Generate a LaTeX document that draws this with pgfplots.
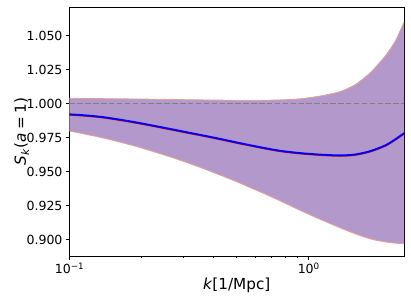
\documentclass[border=0pt]{standalone}
\usepackage{fontspec}
\setmainfont{DejaVu Sans}
\usepackage{pgfplots}
\usepackage{pgfplotstable}
\pgfplotsset{compat=1.18}
\definecolor{bandfill}{RGB}{179,152,204}
\definecolor{edgecol}{RGB}{232,160,150}
\definecolor{dashgray}{RGB}{128,128,128}
\newcommand{\tf}{\fontsize{12.6}{15}\selectfont}
\newcommand{\lf}{\fontsize{15.3}{18}\selectfont}
\pgfplotstableread{
k       upper    mean     lower    meanred
0.1000  1.00397  0.99221  0.97993  0.99181
0.1173  1.00385  0.99140  0.97745  0.99100
0.1372  1.00372  0.99022  0.97493  0.98982
0.1611  1.00360  0.98838  0.97190  0.98798
0.1892  1.00346  0.98632  0.96868  0.98592
0.2216  1.00330  0.98404  0.96505  0.98364
0.2606  1.00312  0.98162  0.96118  0.98122
0.3060  1.00295  0.97919  0.95700  0.97879
0.3601  1.00279  0.97676  0.95250  0.97636
0.4227  1.00264  0.97426  0.94775  0.97386
0.4967  1.00250  0.97162  0.94279  0.97122
0.6276  1.00250  0.96801  0.93507  0.96761
0.7612  1.00279  0.96537  0.92846  0.96497
0.9232  1.00360  0.96368  0.92147  0.96328
1.1196  1.00566  0.96257  0.91485  0.96217
1.3577  1.00897  0.96199  0.90860  0.96159
1.5688  1.01412  0.96272  0.90419  0.96232
1.8129  1.02294  0.96522  0.90051  0.96482
2.0950  1.03544  0.96949  0.89831  0.96909
2.3072  1.04647  0.97404  0.89743  0.97364
2.5000  1.06007  0.97831  0.89699  0.97791
}\datatable
\pgfplotstableread{
k       y
0.1000  1.00397
0.1173  1.00385
0.1372  1.00372
0.1611  1.00360
0.1892  1.00346
0.2216  1.00330
0.2606  1.00312
0.3060  1.00295
0.3601  1.00279
0.4227  1.00264
0.4967  1.00250
0.6276  1.00250
0.7612  1.00279
0.9232  1.00360
1.1196  1.00566
1.3577  1.00897
1.5688  1.01412
1.8129  1.02294
2.0950  1.03544
2.3072  1.04647
2.5000  1.06007
2.5000  0.89699
2.3072  0.89743
2.0950  0.89831
1.8129  0.90051
1.5688  0.90419
1.3577  0.90860
1.1196  0.91485
0.9232  0.92147
0.7612  0.92846
0.6276  0.93507
0.4967  0.94279
0.4227  0.94775
0.3601  0.95250
0.3060  0.95700
0.2606  0.96118
0.2216  0.96505
0.1892  0.96868
0.1611  0.97190
0.1372  0.97493
0.1173  0.97745
0.1000  0.97993
}\bandtable
\begin{document}
\begin{tikzpicture}
\useasboundingbox (-69.5bp,-46bp) rectangle (341.5bp,256bp);
\begin{axis}[
  at={(0,0)}, anchor=south west,
  width=334.5bp, height=249bp, scale only axis,
  xmode=log, xmin=0.1, xmax=2.5, ymin=0.888, ymax=1.0711,
  xtick={0.1,1}, xticklabels={{\tf 10\textsuperscript{−1}},{\tf 10\textsuperscript{0}}},
  ytick={0.900,0.925,0.950,0.975,1.000,1.025,1.050},
  yticklabels={{\tf 0.900},{\tf 0.925},{\tf 0.950},{\tf 0.975},{\tf 1.000},{\tf 1.025},{\tf 1.050}},
  tick align=outside, xtick pos=bottom, ytick pos=left,
  major tick length=3.5bp, minor tick length=2bp,
  every tick/.style={black, line width=0.8bp},
  axis line style={black, line width=0.8bp},
  xlabel={\lf\textit{k}[1/Mpc]},
  ylabel={\lf\textit{S}\textsubscript{\textit{k}}(\textit{a}\hspace{0.25em}=\hspace{0.25em}1)},
  every axis x label/.style={at={(axis description cs:0.5,-0.1165)}, anchor=center},
  every axis y label/.style={at={(axis description cs:-0.143,0.5)}, anchor=center, rotate=90},
]
\addplot[fill=bandfill, draw=none] table[x=k, y=y] {\bandtable} -- cycle;
\addplot[draw=edgecol, line width=0.8bp, smooth] table[x=k, y=upper] {\datatable};
\addplot[draw=edgecol, line width=0.8bp, smooth] table[x=k, y=lower] {\datatable};
\addplot[dashgray, line width=1.5bp, dash pattern=on 5.5bp off 2.4bp] coordinates {(0.1,1) (2.5,1)};
\addplot[red!80!black, line width=1.6bp, smooth] table[x=k, y=meanred] {\datatable};
\addplot[blue, line width=1.8bp, smooth] table[x=k, y=mean] {\datatable};
\end{axis}
\end{tikzpicture}
\end{document}
